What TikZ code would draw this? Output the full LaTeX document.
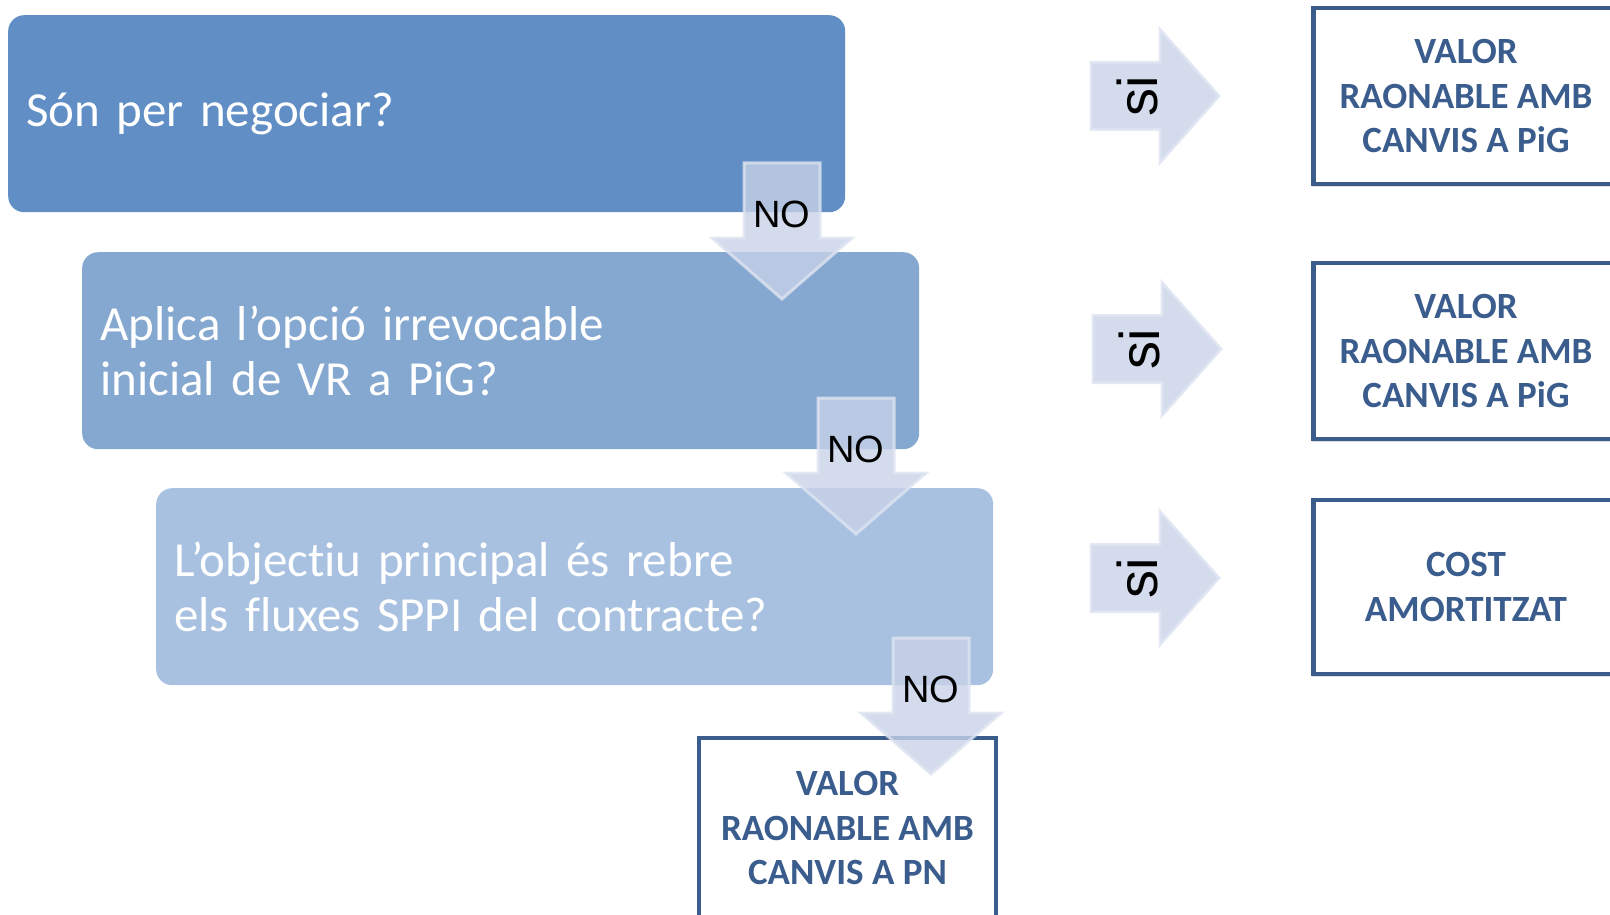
\documentclass[tikz,border=0pt]{standalone}
\usepackage{fontspec}
\setmainfont{Carlito}[Ligatures=NoCommon]
\newfontfamily\labelfont{Liberation Sans}
\usetikzlibrary{shadows}

\definecolor{qdark}{RGB}{96,142,197}
\definecolor{qmid}{RGB}{133,168,209}
\definecolor{qlight}{RGB}{168,193,224}
\definecolor{resblue}{RGB}{58,93,142}
\definecolor{flowfill}{RGB}{200,210,232}
\definecolor{flowedge}{RGB}{222,228,241}

\tikzset{
	question/.style={fill=#1, rounded corners=16pt, anchor=north west, minimum width=837pt, minimum height=197pt, inner xsep=18pt, text width=801pt, align=left, text=white, font=\fontsize{49}{54.5}\selectfont},
	outcome/.style={draw=resblue, line width=4.5pt, fill=white, text=resblue, align=center, font=\fontsize{37}{44.5}\selectfont\bfseries, drop shadow={opacity=0.25, shadow xshift=-2pt, shadow yshift=-3pt}},
	flow/.style={fill=flowfill, fill opacity=0.8, draw=flowedge, draw opacity=0.8, line width=3pt},
	flowlabel/.style={text=black, font=\labelfont\fontsize{38}{38}\selectfont}
}

\begin{document}
\begin{tikzpicture}[x=1pt, y=-1pt]
	\clip (0,0) rectangle (1610,915);
	\fill[white] (0,0) rectangle (1610,915);

	% questions
	\node[question=qdark] (negociar) at (8,15) {Són per negociar?};
	\node[question=qmid] (opcio) at (82,252) {Aplica l’opció irrevocable\\inicial de VR a PiG?};
	\node[question=qlight] (objectiu) at (156,488) {L’objectiu principal és rebre\\els fluxes SPPI del contracte?};

	% outcomes
	\node[outcome, minimum width=305pt, minimum height=176pt] (vrpig1) at (1466,96) {VALOR\\RAONABLE AMB\\CANVIS A PiG};
	\node[outcome, minimum width=305pt, minimum height=176pt] (vrpig2) at (1466,351) {VALOR\\RAONABLE AMB\\CANVIS A PiG};
	\node[outcome, minimum width=305pt, minimum height=174pt] (cost) at (1466,587) {COST\\AMORTITZAT};
	\node[outcome, minimum width=297pt, minimum height=180pt] (vrpn) at (847.5,828) {VALOR\\RAONABLE AMB\\CANVIS A PN};

	% si arrows
	\foreach \cy/\lx/\nm in {96/1091/si1, 349/1093/si2, 578/1091/si3}{
		\draw[flow] (\lx,\cy-33.5) -- (\lx+69,\cy-33.5) -- (\lx+69,\cy-66.5) -- (\lx+128,\cy) -- (\lx+69,\cy+66.5) -- (\lx+69,\cy+33.5) -- (\lx,\cy+33.5) -- cycle;
		\node[flowlabel, font=\labelfont\fontsize{56}{56}\selectfont, rotate=90] (\nm) at (\lx+46,\cy) {si};
	}

	% no arrows
	\foreach \cx/\ty/\nm in {782/163/no1, 856/398/no2, 931/638/no3}{
		\draw[flow] (\cx-38,\ty) -- (\cx+38,\ty) -- (\cx+38,\ty+75) -- (\cx+70,\ty+75) -- (\cx,\ty+136) -- (\cx-70,\ty+75) -- (\cx-38,\ty+75) -- cycle;
		\node[flowlabel] (\nm) at (\cx,\ty+51) {NO};
	}
\end{tikzpicture}
\end{document}
